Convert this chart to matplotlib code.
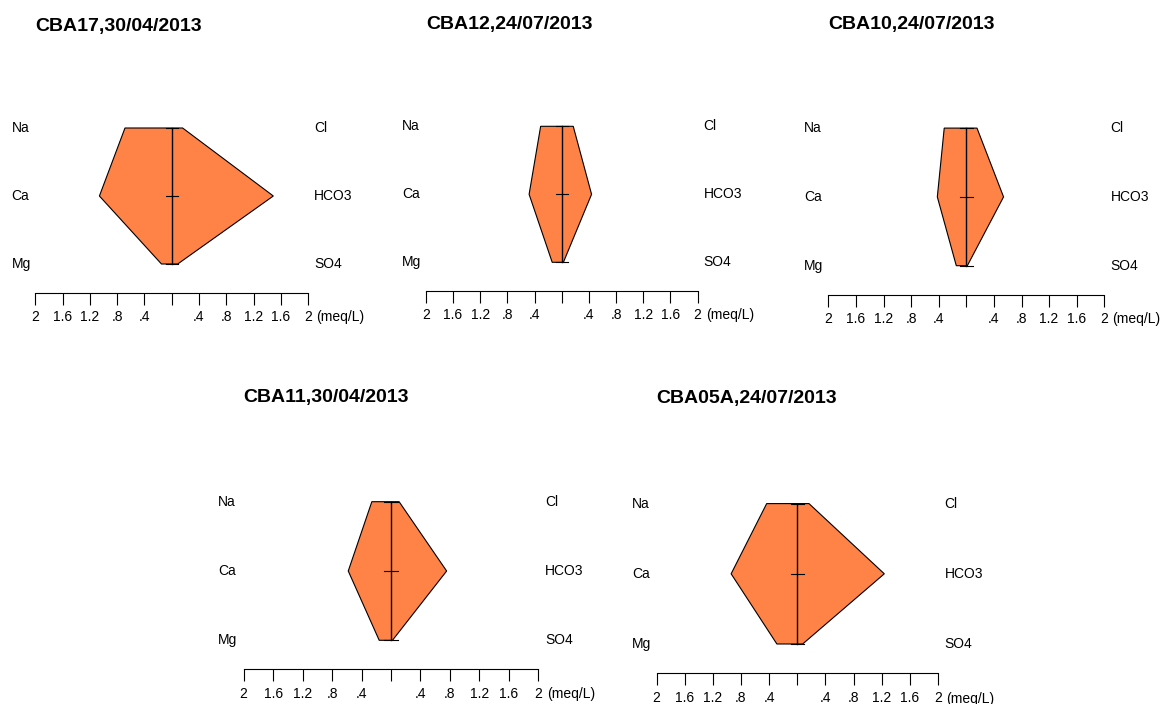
import matplotlib
matplotlib.use('Agg')
import matplotlib.pyplot as plt

plt.rcParams['font.family'] = ['Liberation Sans', 'DejaVu Sans']

# Sample names and dates (panel titles)
titles = ['CBA17,30/04/2013', 'CBA12,24/07/2013', 'CBA10,24/07/2013',
          'CBA11,30/04/2013', 'CBA05A,24/07/2013']

# Cations (left side), meq/L
na = [0.685, 0.31, 0.32, 0.26, 0.435]
ca = [1.06, 0.48, 0.42, 0.58, 0.94]
mg = [0.15, 0.14, 0.145, 0.16, 0.29]

# Anions (right side), meq/L
cl = [0.16, 0.17, 0.155, 0.11, 0.166]
hco3 = [1.49, 0.44, 0.54, 0.755, 1.236]
so4 = [0.088, 0.025, 0.015, 0.02, 0.076]

cation_names = ['Na', 'Ca', 'Mg']
anion_names = ['Cl', 'HCO3', 'SO4']

tick_values = [-2, -1.6, -1.2, -0.8, -0.4, 0, 0.4, 0.8, 1.2, 1.6, 2]
tick_labels = ['2', '1.6', '1.2', '.8', '.4', '', '.4', '.8', '1.2', '1.6', '2']

# Panel placement in pixels: centre x, px per meq, y of Mg row, px per row
panel_px = [
    (171.7, 68.2, 264.0, 68.0),
    (561.7, 67.9, 262.3, 68.0),
    (966.3, 69.0, 265.7, 68.8),
    (391.0, 73.7, 640.3, 69.3),
    (797.3, 70.4, 644.0, 70.2),
]

FIG_W, FIG_H = 1163, 704
XMIN, XMAX = -2.6, 2.9
YMIN, YMAX = -1.0, 3.8


def draw_stiff(ax, i):
    # Polygon: cations to the left, anions to the right
    xs = [-na[i], -ca[i], -mg[i], so4[i], hco3[i], cl[i]]
    ys = [2, 1, 0, 0, 1, 2]
    ax.fill(xs, ys, facecolor='#FF8247', edgecolor='black', linewidth=0.8, zorder=2)

    # Centre line and small cross ticks
    ax.plot([0, 0], [0, 2], color='black', linewidth=1, zorder=3)
    for y in [0, 1, 2]:
        ax.plot([-0.09, 0.09], [y, y], color='black', linewidth=0.8, zorder=3)

    # Ion labels
    for y, name in zip([2, 1, 0], cation_names):
        ax.text(-2.35, y, name, ha='left', va='center', fontsize=10)
    for y, name in zip([2, 1, 0], anion_names):
        ax.text(2.09, y, name, ha='left', va='center', fontsize=10)

    # Scale axis below the diagram
    for side in ['top', 'left', 'right']:
        ax.spines[side].set_visible(False)
    ax.spines['bottom'].set_position(('data', -0.42))
    ax.spines['bottom'].set_bounds(-2, 2)
    ax.spines['bottom'].set_linewidth(0.8)
    ax.set_xticks(tick_values)
    ax.set_xticklabels(tick_labels, fontsize=10)
    ax.tick_params(axis='x', direction='out', length=8.5, width=0.8, pad=4)
    ax.set_yticks([])
    ax.text(2.12, -0.78, '(meq/L)', ha='left', va='center', fontsize=10)

    # Title, left aligned with the axis
    ax.text(-2, 3.5, titles[i], ha='left', va='center', fontsize=14, fontweight='bold')

    ax.set_xlim(XMIN, XMAX)
    ax.set_ylim(YMIN, YMAX)
    ax.patch.set_visible(False)


fig = plt.figure(figsize=(FIG_W / 100, FIG_H / 100), dpi=100)

for i, (cx, s, mg_y, rs) in enumerate(panel_px):
    left = cx + XMIN * s
    width = (XMAX - XMIN) * s
    bottom_px = mg_y - YMIN * rs
    height = (YMAX - YMIN) * rs
    ax = fig.add_axes([left / FIG_W, 1 - bottom_px / FIG_H, width / FIG_W, height / FIG_H])
    draw_stiff(ax, i)

fig.savefig('out.png', dpi=100)
